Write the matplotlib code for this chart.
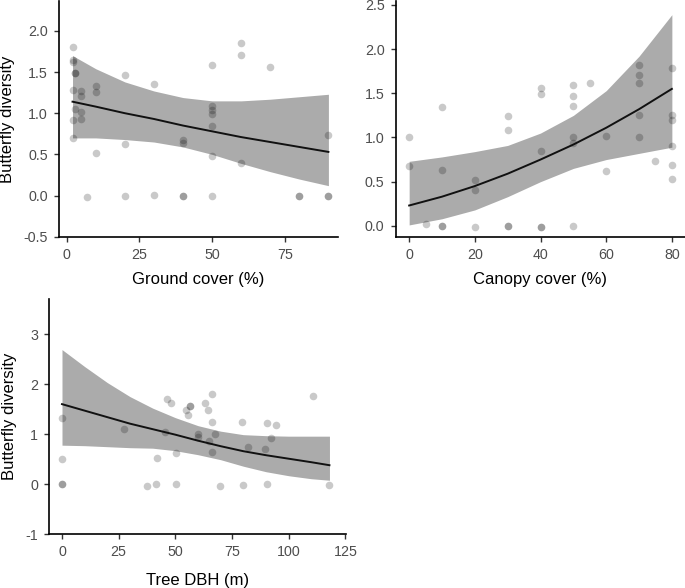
import matplotlib
matplotlib.use("Agg")
import matplotlib.pyplot as plt

plt.rcParams['font.family'] = ['Liberation Sans', 'DejaVu Sans']
plt.rcParams['axes.unicode_minus'] = False

# ---------------- Panel 1: Ground cover ----------------
ground_x = [2, 2, 2, 3, 3, 2, 3, 2, 2, 5, 5, 5, 5, 7, 10, 10, 10, 20, 20, 20,
            30, 30, 40, 40, 40, 40, 50, 50, 50, 50, 50, 50, 50, 60, 60, 60,
            70, 80, 80, 90, 90, 90]
ground_y = [1.80, 1.65, 1.62, 1.49, 1.49, 1.28, 1.05, 0.92, 0.70, 1.27, 1.21, 1.01, 0.93,
            -0.02, 1.33, 1.26, 0.52, 1.47, 0.62, 0.0, 1.36, 0.01, 0.68, 0.64, 0.0, 0.0,
            1.58, 1.09, 1.04, 0.99, 0.85, 0.48, -0.01, 1.855, 1.705, 0.39,
            1.56, 0.0, 0.0, 0.73, 0.0, 0.0]
ground_fit_x = [2, 10, 20, 30, 40, 50, 60, 70, 80, 90]
ground_fit = [1.14, 1.08, 1.00, 0.93, 0.85, 0.78, 0.71, 0.65, 0.59, 0.53]
ground_lo = [0.70, 0.70, 0.68, 0.65, 0.59, 0.50, 0.39, 0.29, 0.20, 0.12]
ground_hi = [1.70, 1.54, 1.38, 1.27, 1.19, 1.15, 1.15, 1.17, 1.20, 1.23]

# ---------------- Panel 2: Canopy cover ----------------
canopy_x = [0, 0, 5, 10, 10, 10, 10, 20, 20, 20, 30, 30, 30, 30, 40, 40, 40, 40, 40,
            50, 50, 50, 50, 50, 50, 55, 60, 60, 70, 70, 70, 70, 70, 75,
            80, 80, 80, 80, 80, 80]
canopy_y = [1.01, 0.68, 0.02, 1.35, 0.63, 0.0, 0.0, 0.515, 0.41, -0.015, 1.24, 1.08, 0.0, 0.0,
            1.56, 1.49, 0.85, -0.01, -0.01, 1.59, 1.47, 1.36, 1.01, 0.94, 0.0, 1.62,
            1.02, 0.62, 1.82, 1.71, 1.62, 1.26, 1.0, 0.73,
            1.79, 1.26, 1.195, 0.90, 0.69, 0.53]
canopy_fit_x = [0, 10, 20, 30, 40, 50, 60, 70, 80]
canopy_fit = [0.23, 0.33, 0.45, 0.59, 0.75, 0.92, 1.11, 1.32, 1.55]
canopy_lo = [0.01, 0.08, 0.18, 0.33, 0.50, 0.65, 0.75, 0.82, 0.89]
canopy_hi = [0.73, 0.78, 0.84, 0.91, 1.05, 1.25, 1.53, 1.92, 2.39]

# ---------------- Panel 3: Tree DBH ----------------
dbh_x = [0, 0, 0, 0, 27.4, 37.7, 41.7, 41.5, 45.6, 46.5, 48.3, 50.2, 50.5, 54.6, 55.6,
         56.3, 56.3, 60.0, 60.0, 63.1, 64.6, 64.7, 66.0, 66.0, 66.0, 67.3, 69.5, 79.4,
         80.0, 82.0, 89.6, 90.4, 90.4, 92.4, 94.6, 110.6, 118.0]
dbh_y = [1.32, 0.50, 0.01, 0.01, 1.10, -0.03, 0.53, 0.01, 1.035, 1.70, 1.62, 0.01, 0.63,
         1.48, 1.38, 1.57, 1.56, 1.0, 0.95, 1.62, 1.48, 0.86, 1.81, 1.25, 0.65, 1.01,
         -0.03, 1.24, -0.01, 0.75, 0.71, 1.22, 0.01, 0.92, 1.18, 1.76, -0.02]
dbh_fit_x = [0, 10, 20, 30, 40, 50, 60, 70, 80, 90, 100, 110, 118]
dbh_fit = [1.60, 1.47, 1.34, 1.21, 1.10, 0.99, 0.87, 0.76, 0.66, 0.58, 0.51, 0.44, 0.38]
dbh_lo = [0.78, 0.77, 0.75, 0.73, 0.72, 0.67, 0.59, 0.49, 0.36, 0.25, 0.17, 0.11, 0.08]
dbh_hi = [2.69, 2.35, 2.03, 1.75, 1.52, 1.33, 1.17, 1.06, 0.99, 0.97, 0.96, 0.96, 0.96]

W, H = 685, 588
fig = plt.figure(figsize=(W / 100, H / 100), dpi=100)


def make_ax(left, right, bottom, top):
    return fig.add_axes([left / W, 1 - bottom / H, (right - left) / W, (bottom - top) / H])


def style(ax):
    for s in ('top', 'right'):
        ax.spines[s].set_visible(False)
    for s in ('left', 'bottom'):
        ax.spines[s].set_linewidth(1.2)
        ax.spines[s].set_color('black')
    ax.tick_params(axis='both', length=3.5, width=1.0, color='#333333',
                   labelcolor='#4d4d4d', labelsize=10.3, pad=4.5)


def panel(ax, x, y, fx, fit, lo, hi):
    ax.fill_between(fx, lo, hi, color='#ababab', linewidth=0, zorder=1)
    ax.plot(fx, fit, color='#111111', lw=1.4, zorder=3)
    ax.scatter(x, y, s=30, color='black', alpha=0.21, linewidths=0, zorder=2, clip_on=False)


ax1 = make_ax(59, 338.3, 236.7, 1)
panel(ax1, ground_x, ground_y, ground_fit_x, ground_fit, ground_lo, ground_hi)
ax1.set_xlim(-2.65, 93.4)
ax1.set_ylim(-0.5, 2.363)
ax1.set_xticks([0, 25, 50, 75])
ax1.set_yticks([-0.5, 0, 0.5, 1.0, 1.5, 2.0])
ax1.set_yticklabels(['-0.5', '0.0', '0.5', '1.0', '1.5', '2.0'])
style(ax1)
ax1.set_xlabel('Ground cover (%)', fontsize=12, labelpad=7)
ax1.set_ylabel('Butterfly diversity', fontsize=12, labelpad=6)

ax2 = make_ax(395.7, 685, 237.3, 1)
panel(ax2, canopy_x, canopy_y, canopy_fit_x, canopy_fit, canopy_lo, canopy_hi)
ax2.set_xlim(-4.1, 84)
ax2.set_ylim(-0.13, 2.545)
ax2.set_xticks([0, 20, 40, 60, 80])
ax2.set_yticks([0, 0.5, 1.0, 1.5, 2.0, 2.5])
ax2.set_yticklabels(['0.0', '0.5', '1.0', '1.5', '2.0', '2.5'])
style(ax2)
ax2.set_xlabel('Canopy cover (%)', fontsize=12, labelpad=7)

ax3 = make_ax(49.3, 346, 534.3, 299)
panel(ax3, dbh_x, dbh_y, dbh_fit_x, dbh_fit, dbh_lo, dbh_hi)
ax3.set_xlim(-5.6, 125.3)
ax3.set_ylim(-1, 3.7)
ax3.set_xticks([0, 25, 50, 75, 100, 125])
ax3.set_yticks([-1, 0, 1, 2, 3])
style(ax3)
ax3.set_xlabel('Tree DBH (m)', fontsize=12, labelpad=9.5)
ax3.set_ylabel('Butterfly diversity', fontsize=12, labelpad=6)

fig.savefig('out.png', dpi=100)
